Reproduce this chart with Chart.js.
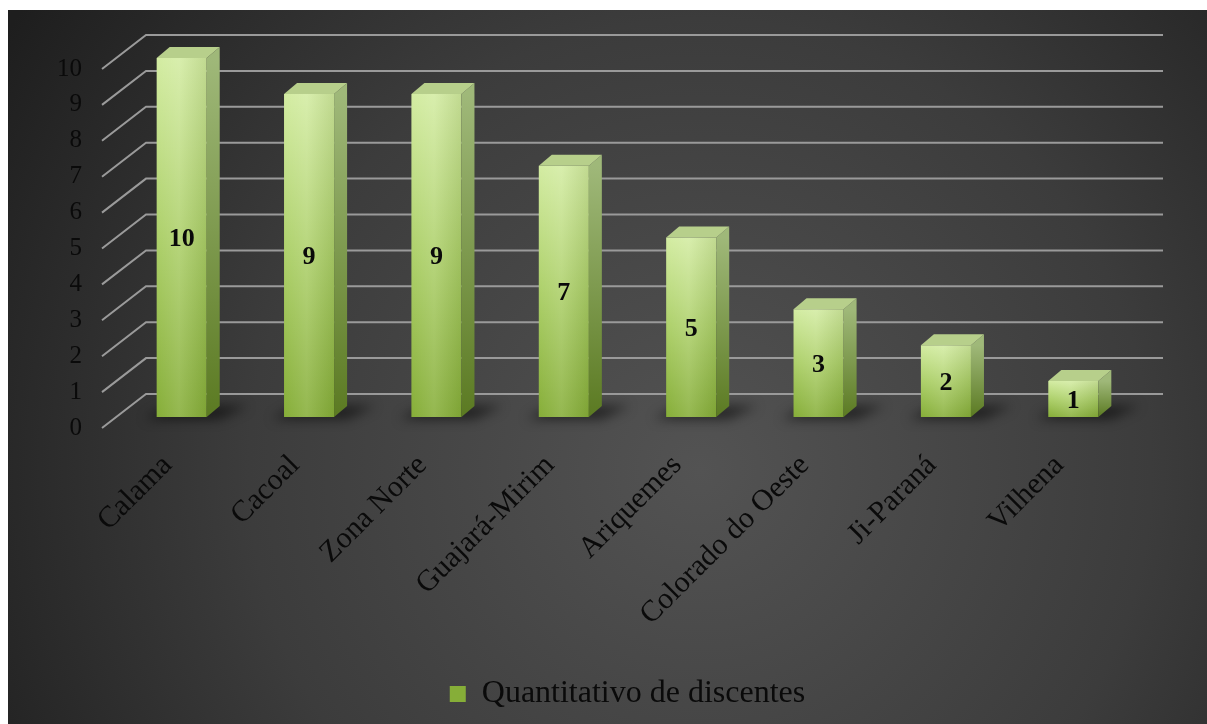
<!DOCTYPE html>
<html lang="pt">
<head>
<meta charset="utf-8">
<title>Quantitativo de discentes</title>
<script src="https://cdn.jsdelivr.net/npm/chart.js@4.4.1/dist/chart.umd.min.js"></script>
<style>
  html, body { margin: 0; padding: 0; background: #fff; }
  canvas { display: block; }
</style>
</head>
<body>
<canvas id="campusChart" width="1207" height="724"></canvas>
<script>
const campi = ['Calama', 'Cacoal', 'Zona Norte', 'Guajará-Mirim', 'Ariquemes', 'Colorado do Oeste', 'Ji-Paraná', 'Vilhena'];
const discentes = [10, 9, 9, 7, 5, 3, 2, 1];
const yMin = 0;
const yMax = 10;
const yStep = 1;

const SERIF = "'Liberation Serif', 'Times New Roman', serif";

// 3D look: bar depth and wall offsets relative to the bar plane
const BAR_DX = 13, BAR_DY = -11;
const FRONT_DX = -16, FRONT_DY = 11;
const BACK_DX = 28, BACK_DY = -23;

function frontGradient(ctx, top, bottom) {
    const g = ctx.createLinearGradient(0, top, 0, bottom);
    g.addColorStop(0, '#d3eca2');
    g.addColorStop(0.5, '#add06a');
    g.addColorStop(1, '#86ae38');
    return g;
}

const backdrop = {
    id: 'backdrop',
    beforeDraw(chart) {
        const ctx = chart.ctx;
        ctx.save();
        ctx.fillStyle = '#ffffff';
        ctx.fillRect(0, 0, chart.width, chart.height);
        const g = ctx.createRadialGradient(700, 470, 0, 700, 470, 820);
        g.addColorStop(0, '#535353');
        g.addColorStop(0.55, '#3c3c3c');
        g.addColorStop(1, '#1e1e1e');
        ctx.fillStyle = g;
        ctx.fillRect(8, 10, chart.width - 8, chart.height - 10);
        ctx.restore();
    }
};

const walls = {
    id: 'walls',
    beforeDatasetsDraw(chart) {
        const ctx = chart.ctx;
        const y = chart.scales.y;
        const area = chart.chartArea;
        ctx.save();
        ctx.strokeStyle = '#9a9a9a';
        ctx.lineWidth = 2;
        for (let v = yMin; v <= yMax; v += yStep) {
            const py = y.getPixelForValue(v);
            ctx.beginPath();
            ctx.moveTo(area.left + FRONT_DX, py + FRONT_DY);
            ctx.lineTo(area.left + BACK_DX, py + BACK_DY);
            ctx.lineTo(area.right + BACK_DX - 2, py + BACK_DY);
            ctx.stroke();
        }
        // soft floor shadows behind each column
        const meta = chart.getDatasetMeta(0);
        ctx.filter = 'blur(6px)';
        ctx.fillStyle = 'rgba(0,0,0,0.55)';
        meta.data.forEach(bar => {
            const l = bar.x - bar.width / 2, r = bar.x + bar.width / 2;
            ctx.beginPath();
            ctx.moveTo(l - 12, bar.base + 2);
            ctx.lineTo(r + 12, bar.base + 2);
            ctx.lineTo(r + BAR_DX + 28, bar.base + BAR_DY);
            ctx.lineTo(l + BAR_DX, bar.base + BAR_DY);
            ctx.closePath();
            ctx.fill();
        });
        ctx.restore();
    },
    afterDatasetsDraw(chart) {
        const ctx = chart.ctx;
        const meta = chart.getDatasetMeta(0);
        ctx.save();
        meta.data.forEach((bar, i) => {
            const l = bar.x - bar.width / 2, r = bar.x + bar.width / 2;
            // right side face
            const side = ctx.createLinearGradient(0, bar.y, 0, bar.base);
            side.addColorStop(0, '#9fb879');
            side.addColorStop(1, '#5b7a22');
            ctx.fillStyle = side;
            ctx.beginPath();
            ctx.moveTo(r, bar.y);
            ctx.lineTo(r + BAR_DX, bar.y + BAR_DY);
            ctx.lineTo(r + BAR_DX, bar.base + BAR_DY);
            ctx.lineTo(r, bar.base);
            ctx.closePath();
            ctx.fill();
            // top face
            ctx.fillStyle = '#b7cf8b';
            ctx.beginPath();
            ctx.moveTo(l, bar.y);
            ctx.lineTo(l + BAR_DX, bar.y + BAR_DY);
            ctx.lineTo(r + BAR_DX, bar.y + BAR_DY);
            ctx.lineTo(r, bar.y);
            ctx.closePath();
            ctx.fill();
            // soft highlight across the front
            const hl = ctx.createLinearGradient(l, 0, r, 0);
            hl.addColorStop(0, 'rgba(255,255,255,0)');
            hl.addColorStop(0.45, 'rgba(255,255,255,0.12)');
            hl.addColorStop(1, 'rgba(60,80,20,0.12)');
            ctx.fillStyle = hl;
            ctx.fillRect(l, bar.y, r - l, bar.base - bar.y);
            // value label
            ctx.fillStyle = '#0a0a0a';
            ctx.font = 'bold 26px ' + SERIF;
            ctx.textAlign = 'center';
            ctx.textBaseline = 'middle';
            ctx.fillText(String(discentes[i]), bar.x, (bar.y + bar.base) / 2 + 2);
        });
        ctx.restore();
    }
};

const ctx = document.getElementById('campusChart');
new Chart(ctx, {
    type: 'bar',
    data: {
        labels: campi,
        datasets: [{
            label: 'Quantitativo de discentes',
            data: discentes,
            backgroundColor: function(c) {
                if (c.type !== 'data') return '#9cc158';
                const y = c.chart.scales.y;
                return frontGradient(c.chart.ctx, y.getPixelForValue(c.raw), y.getPixelForValue(0));
            },
            borderWidth: 0,
            barPercentage: 0.393,
            categoryPercentage: 1
        }]
    },
    options: {
        responsive: false,
        animation: false,
        devicePixelRatio: 1,
        layout: { padding: { top: 58, right: 70, bottom: 4, left: 0 } },
        plugins: {
            legend: {
                position: 'bottom',
                fullSize: false,
                labels: {
                    color: '#0a0a0a',
                    font: { family: SERIF, size: 32 },
                    boxWidth: 16,
                    boxHeight: 16,
                    padding: 10
                }
            },
            tooltip: { enabled: false }
        },
        scales: {
            x: {
                grid: { display: false, drawTicks: false },
                border: { display: false },
                ticks: {
                    color: '#0a0a0a',
                    font: { family: SERIF, size: 30 },
                    minRotation: 45,
                    maxRotation: 45,
                    autoSkip: false,
                    padding: 31,
                    labelOffset: -14
                },
                afterFit: s => { s.height = 251; }
            },
            y: {
                min: yMin,
                max: yMax,
                grid: { display: false, drawTicks: false },
                border: { display: false },
                ticks: {
                    stepSize: yStep,
                    color: '#0a0a0a',
                    font: { family: SERIF, size: 25 },
                    padding: 36,
                    labelOffset: 11
                },
                afterFit: s => { s.width = 118; }
            }
        }
    },
    plugins: [backdrop, walls]
});
</script>
</body>
</html>
